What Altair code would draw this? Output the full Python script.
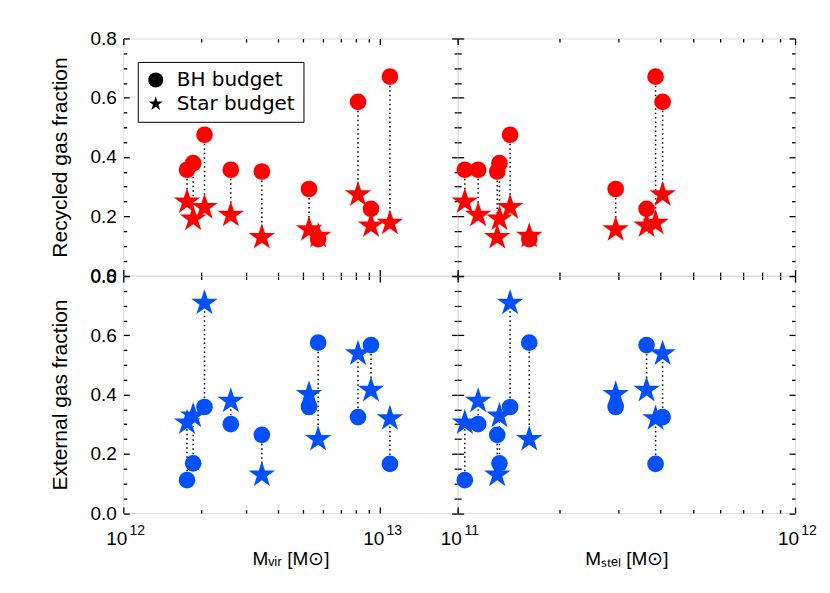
import math
import altair as alt
import pandas as pd

# ---------------- data ----------------
galaxies = [f"G{i}" for i in range(1, 11)]
m_vir = [1.77e12, 1.87e12, 2.07e12, 2.62e12, 3.46e12, 5.28e12, 5.73e12, 8.19e12, 9.20e12, 1.09e13]
m_stel = [1.05e11, 1.33e11, 1.43e11, 1.15e11, 1.31e11, 2.94e11, 1.63e11, 4.05e11, 3.63e11, 3.86e11]
recycled_bh = [0.357, 0.379, 0.475, 0.357, 0.351, 0.292, 0.123, 0.586, 0.225, 0.671]
recycled_star = [0.249, 0.191, 0.230, 0.204, 0.129, 0.155, 0.133, 0.273, 0.168, 0.177]
external_bh = [0.111, 0.168, 0.358, 0.300, 0.264, 0.358, 0.575, 0.324, 0.567, 0.166]
external_star = [0.305, 0.328, 0.709, 0.378, 0.129, 0.401, 0.249, 0.538, 0.415, 0.319]

legend_labels = ["BH budget", "Star budget"]
y_titles = ["Recycled gas fraction", "External gas fraction"]
x_titles = ["Mᵥᵢᵣ [M⊙]", "Mₛₜₑₗ [M⊙]"]
tick_base = "10"
vir_exponents = ["12", "13"]
stel_exponents = ["11", "12"]
y_major = [0.0, 0.2, 0.4, 0.6, 0.8]
y_minor = [0.05, 0.1, 0.15, 0.25, 0.3, 0.35, 0.45, 0.5, 0.55, 0.65, 0.7, 0.75]
vir_domain = [1e12, 2e13]
stel_domain = [1e11, 1e12]
vir_major = [1e12, 1e13]
vir_minor = [k * 1e12 for k in range(2, 10)] + [2e13]
stel_major = [1e11, 1e12]
stel_minor = [k * 1e11 for k in range(2, 10)]

RED = "#ff0000"
BLUE = "#0050ff"
STAR = ("M0,-1L0.2245,-0.309L0.951,-0.309L0.363,0.118L0.588,0.809L0,0.382"
        "L-0.588,0.809L-0.363,0.118L-0.951,-0.309L-0.2245,-0.309Z")
FONT = "DejaVu Sans"

df = pd.DataFrame({
    "galaxy": galaxies,
    "m_vir": m_vir,
    "m_stel": m_stel,
    "rec_bh": recycled_bh,
    "rec_star": recycled_star,
    "ext_bh": external_bh,
    "ext_star": external_star,
    "kind_bh": legend_labels[0],
    "kind_star": legend_labels[1],
    "c_red": RED,
    "c_blue": BLUE,
})

MAJ = 6
MIN = 3.5
LABEL_PAD = 16


def tick_axis(orient, values, size):
    return alt.Axis(orient=orient, values=values, offset=-size, tickSize=size,
                    labels=False, domain=False, grid=False, title=None,
                    ticks=True, tickColor="black", tickWidth=1.3, minExtent=0)


def panel(xfield, xdom, xmaj, xmin, bh, star, colfield, width, height,
          ytitle=None, xtitle=None, exponents=None, legend=False):
    xs = alt.Scale(type="log", domain=xdom, nice=False)
    ys = alt.Scale(domain=[0, 0.8], nice=False, zero=False)
    base = alt.Chart(df)

    def X(axis):
        return alt.X(f"{xfield}:Q", scale=xs, axis=axis)

    def Y(field, axis):
        return alt.Y(f"{field}:Q", scale=ys, axis=axis)

    layers = []
    rule_x = None
    if exponents is not None:
        idx = "round(log(datum.value)/LN10) - " + str(int(round(math.log10(xmaj[0]))))
        rule_x = alt.Axis(orient="bottom", values=xmaj, ticks=False, tickSize=0, domain=False,
                          grid=False, labelExpr=f"'{tick_base}'", labelPadding=LABEL_PAD,
                          labelOffset=-7, labelFontSize=19, labelFlush=False,
                          labelOverlap=False, title=xtitle, titleFontSize=19,
                          titleFontWeight="normal", titlePadding=2, minExtent=0)
        exp_axis = alt.Axis(orient="bottom", values=xmaj, ticks=False, tickSize=0, domain=False,
                            grid=False, labelExpr=f"{exponents}[{idx}]",
                            labelPadding=LABEL_PAD - 6, labelOffset=13.5, labelFontSize=14,
                            labelFlush=False, labelOverlap=False, title=None, minExtent=0)
        layers.append(base.mark_point(opacity=0).encode(x=X(exp_axis), y=Y(bh, None)))
    rule_y = None
    if ytitle is not None:
        rule_y = alt.Axis(orient="left", values=y_major, format=".1f", ticks=False, tickSize=0,
                          domain=False, grid=False, labelPadding=7, labelFontSize=19,
                          labelFlush=False, labelOverlap=False, title=ytitle,
                          titleFontSize=21, titleFontWeight="normal", titlePadding=19,
                          minExtent=0)

    shape_scale = alt.Scale(domain=legend_labels, range=["circle", STAR])
    leg = alt.Legend(title=None, orient="none", legendX=14.5, legendY=23.5,
                     strokeColor="black", fillColor="white", padding=8,
                     labelFont=FONT, labelFontSize=20, labelColor="black",
                     symbolSize=225, symbolFillColor="black", symbolStrokeColor="black",
                     symbolStrokeWidth=0, rowPadding=4, labelOffset=11, cornerRadius=0)

    rules = base.mark_rule(color="black", strokeDash=[1.5, 3], strokeWidth=1.5).encode(
        x=X(rule_x), y=Y(bh, rule_y), y2=alt.Y2(f"{star}:Q"))

    circ_enc = dict(x=X(tick_axis("bottom", xmaj, MAJ)), y=Y(bh, tick_axis("left", y_major, MAJ)),
                    color=alt.Color(f"{colfield}:N", scale=None))
    star_enc = dict(x=X(tick_axis("bottom", xmin, MIN)), y=Y(star, tick_axis("left", y_minor, MIN)),
                    color=alt.Color(f"{colfield}:N", scale=None))
    if legend:
        circ_enc["shape"] = alt.Shape("kind_bh:N", scale=shape_scale, legend=leg)
        star_enc["shape"] = alt.Shape("kind_star:N", scale=shape_scale, legend=leg)
        circles = base.mark_point(filled=True, size=280, opacity=1, strokeWidth=0).encode(**circ_enc)
        stars = base.mark_point(filled=True, size=780, opacity=1, strokeWidth=0).encode(**star_enc)
    else:
        circles = base.mark_point(filled=True, shape="circle", size=280, opacity=1,
                                  strokeWidth=0).encode(**circ_enc)
        stars = base.mark_point(filled=True, shape=STAR, size=780, opacity=1,
                                strokeWidth=0).encode(**star_enc)

    top_maj = base.mark_point(opacity=0).encode(
        x=X(tick_axis("top", xmaj, MAJ)), y=Y(bh, tick_axis("right", y_major, MAJ)))
    top_min = base.mark_point(opacity=0).encode(
        x=X(tick_axis("top", xmin, MIN)), y=Y(bh, tick_axis("right", y_minor, MIN)))

    return alt.layer(rules, *layers, top_maj, top_min, circles, stars).resolve_axis(
        x="independent", y="independent").properties(width=width, height=height)


WL, WR, H = 335, 338, 237.5
tl = panel("m_vir", vir_domain, vir_major, vir_minor, "rec_bh", "rec_star", "c_red", WL, H,
           ytitle=y_titles[0], legend=True)
tr = panel("m_stel", stel_domain, stel_major, stel_minor, "rec_bh", "rec_star", "c_red", WR, H)
bl = panel("m_vir", vir_domain, vir_major, vir_minor, "ext_bh", "ext_star", "c_blue", WL, H,
           ytitle=y_titles[1], xtitle=x_titles[0], exponents=str(vir_exponents))
br = panel("m_stel", stel_domain, stel_major, stel_minor, "ext_bh", "ext_star", "c_blue", WR, H,
           xtitle=x_titles[1], exponents=str(stel_exponents))

chart = alt.concat(tl, tr, bl, br, columns=2, spacing=0, bounds="flush").resolve_legend(
    shape="independent").properties(
    padding={"left": 41.5, "top": 20, "right": 5, "bottom": 5}
).configure_view(stroke="black", strokeWidth=1.5).configure_axis(
    labelFont=FONT, titleFont=FONT, labelColor="black", titleColor="black",
    titleFontWeight="normal", grid=False
).configure(background="white")

chart.save("out.html", embed_options={"renderer": "svg", "actions": False})
